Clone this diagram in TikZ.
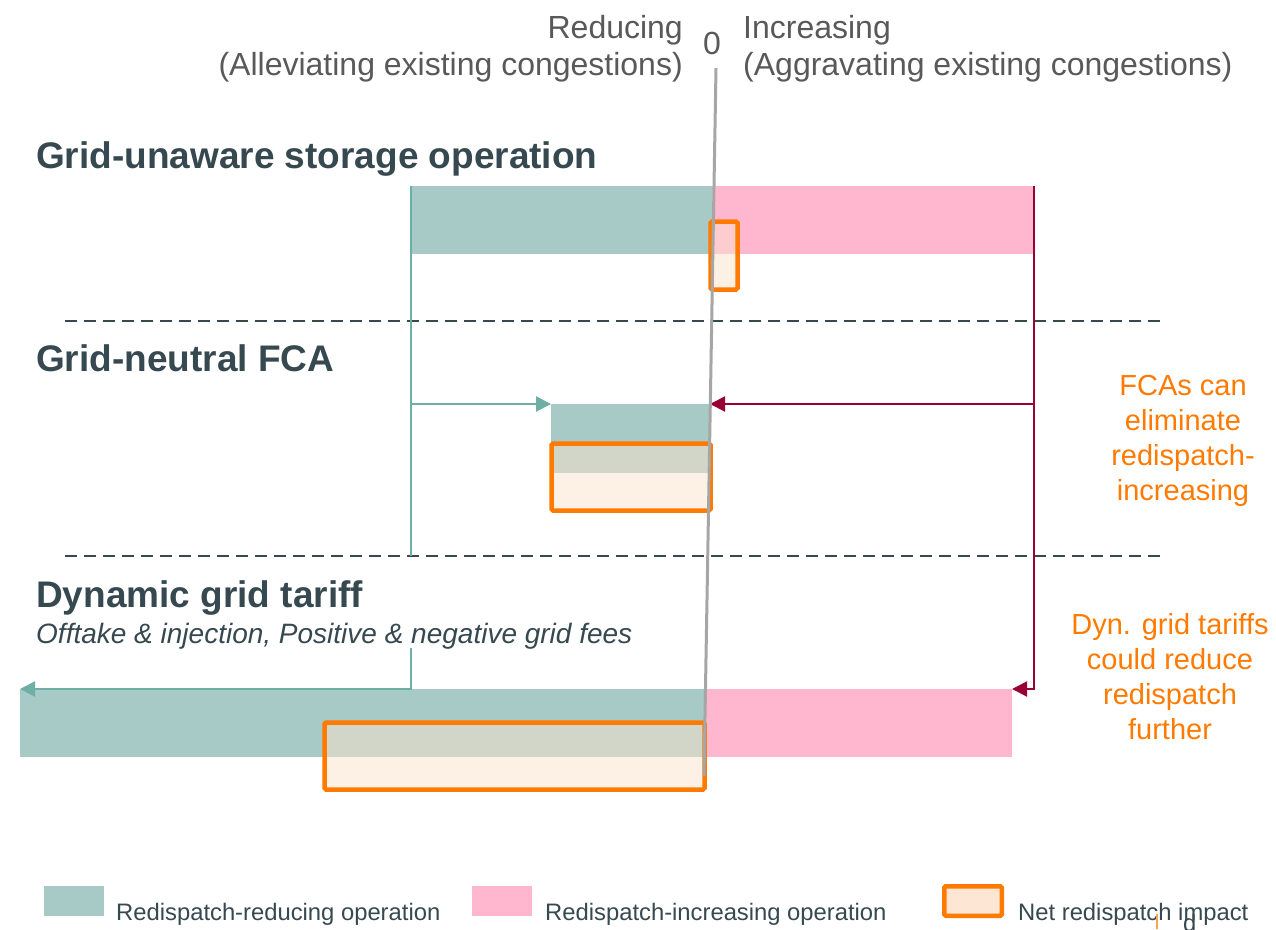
\documentclass[tikz,border=0pt]{standalone}
\usepackage{fontspec}
\setmainfont{Liberation Sans}
\usetikzlibrary{arrows.meta}
\definecolor{tealfill}{HTML}{A7CAC6}
\definecolor{tealline}{HTML}{6DAFA4}
\definecolor{pinkfill}{HTML}{FFB7D0}
\definecolor{wine}{HTML}{990033}
\definecolor{netorange}{HTML}{FF7A00}
\definecolor{peach}{HTML}{FDE2CD}
\definecolor{slate}{HTML}{374950}
\definecolor{axisgray}{HTML}{595959}
\definecolor{zerogray}{HTML}{A6A6A6}
\tikzset{
  bar/.style={inner sep=0pt, outer sep=0pt, anchor=north west},
  redbar/.style={bar, fill=tealfill},
  incbar/.style={bar, fill=pinkfill},
  netbox/.style={bar, draw=netorange, line width=4.5pt, fill=peach, fill opacity=.5, rounded corners=1.5pt},
  tealwire/.style={draw=tealline, line width=2pt},
  tealarrow/.style={tealwire, -{Triangle[length=15pt,width=15pt]}},
  redarrow/.style={draw=wine, line width=2pt, -{Triangle[length=15pt,width=15pt]}},
  sep/.style={draw=slate, line width=2.5pt, dash pattern=on 12pt off 7pt},
  title/.style={anchor=base west, inner sep=0pt, text=slate, font=\bfseries\fontsize{37}{44}\selectfont},
  axistext/.style={inner sep=0pt, text=axisgray, font=\fontsize{32}{37}\selectfont},
  note/.style={align=center, inner sep=0pt, text=netorange, font=\fontsize{29}{35}\selectfont},
  legendtext/.style={anchor=base west, inner sep=0pt, text=slate, font=\fontsize{23.8}{28}\selectfont}
}
\begin{document}
\begin{tikzpicture}[x=1pt,y=-1pt]%redispatch
\useasboundingbox[fill=white] (0,0) rectangle (1276,929);
% axis labels
\node[axistext, anchor=base east] (red-lbl) at (683,38) {Reducing};
\node[axistext, anchor=base east] (red-sub) at (683,75) {(Alleviating existing congestions)};
\node[axistext, anchor=base] (zero-lbl) at (712,54) {0};
\node[axistext, anchor=base west] (inc-lbl) at (743,38) {Increasing};
\node[axistext, anchor=base west] (inc-sub) at (743,75) {(Aggravating existing congestions)};
% rows
\node[title] (gu-title) at (36,168) {Grid-unaware storage operation};
\node[title] (fca-title) at (36,371) {Grid-neutral FCA};
\node[title] (dyn-title) at (36,607) {Dynamic grid tariff};
\node[anchor=base west, inner sep=0pt, text=slate, font=\itshape\fontsize{28}{33}\selectfont] (dyn-sub) at (36,643) {Offtake \& injection, Positive \& negative grid fees};
\coordinate (sepA) at (65,321);
\coordinate (sepB) at (65,556);
\draw[sep] (sepA) -- (1160,321);
\draw[sep] (sepB) -- (1160,556);
% bars
\node[redbar, minimum width=301, minimum height=68] (gu-red) at (411,186) {};
\node[incbar, minimum width=322, minimum height=68] (gu-inc) at (712,186) {};
\node[redbar, minimum width=159, minimum height=69] (fca-red) at (551,404) {};
\node[redbar, minimum width=685, minimum height=68] (dyn-red) at (20,689) {};
\node[incbar, minimum width=307, minimum height=68] (dyn-inc) at (705,689) {};
% net impact
\node[netbox, minimum width=27, minimum height=68] (gu-net) at (710.5,221.5) {};
\node[netbox, minimum width=159, minimum height=67] (fca-net) at (551.5,443.5) {};
\node[netbox, minimum width=380, minimum height=67] (dyn-net) at (324.5,722.5) {};
% connectors
\coordinate (dyn-split) at (411,648);
\draw[tealwire] (gu-red.north west) -- (gu-red.west |- sepB);
\draw[tealarrow] (gu-red.west |- fca-red.north) -- (fca-red.north west);
\draw[tealarrow] (dyn-split) -- (dyn-split |- dyn-red.north) -- (dyn-red.north west);
\draw[redarrow] (gu-inc.north east) -- (gu-inc.north east |- dyn-inc.north) -- (dyn-inc.north east);
\draw[redarrow] (gu-inc.east |- fca-red.north) -- (fca-red.north east);
\coordinate (zero-top) at (716,68);
\coordinate (zero-bot) at (704,776);
\draw[draw=zerogray, line width=3pt] (zero-top) -- (zero-bot);
% notes
\node[note] (fca-note) at (1183,441) {FCAs can\\eliminate\\redispatch-\\increasing};
\node[note] (dyn-note) at (1170,677) {Dyn. grid tariffs\\could reduce\\redispatch\\further};
% legend
\node[redbar, minimum width=60, minimum height=30] (leg-red) at (44,886) {};
\node[legendtext] (leg-red-txt) at (116,920) {Redispatch-reducing operation};
\node[incbar, minimum width=60, minimum height=30] (leg-inc) at (472,886) {};
\node[legendtext] (leg-inc-txt) at (545,920) {Redispatch-increasing operation};
\node[netbox, fill opacity=1, fill=peach!85!white, minimum width=57.5, minimum height=29.5] (leg-net) at (944.3,886.3) {};
\node[legendtext] (leg-net-txt) at (1018,920) {Net redispatch impact};
\begin{scope}
\clip (0,0) rectangle (1276,929);
\draw[draw=netorange!70, line width=1.5pt] (1157,914) -- (1157,929);
\node[legendtext] (page-mark) at (1183,931) {d};
\end{scope}
\end{tikzpicture}
\end{document}
